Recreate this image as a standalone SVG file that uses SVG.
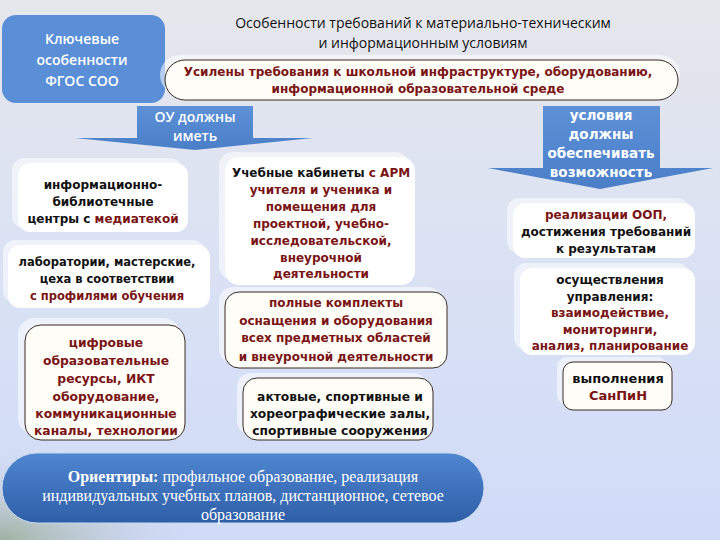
<svg xmlns="http://www.w3.org/2000/svg" width="720" height="540" viewBox="0 0 720 540">
<defs>
<linearGradient id="bg" x1="0" y1="0" x2="0" y2="1">
<stop offset="0" stop-color="#e6e7ec"/>
<stop offset="0.45" stop-color="#dbe2f3"/>
<stop offset="1" stop-color="#d0dbf8"/>
</linearGradient>
<radialGradient id="green" cx="0" cy="1" r="0.6">
<stop offset="0" stop-color="#8aa07a"/>
<stop offset="1" stop-color="#d2dcf8" stop-opacity="0"/>
</radialGradient>
<linearGradient id="pill" x1="0" y1="0" x2="0" y2="1">
<stop offset="0" stop-color="#4f86d0"/>
<stop offset="1" stop-color="#2f5ea8"/>
</linearGradient>
<linearGradient id="callout" x1="0" y1="0" x2="0" y2="1">
<stop offset="0" stop-color="#5c91d8"/>
<stop offset="1" stop-color="#4a7fc8"/>
</linearGradient>
</defs>
<style>
.t{font-family:"DejaVu Sans",Verdana,sans-serif;font-weight:bold;font-size:12px;text-anchor:middle;fill:#111}
.r{fill:#7a1414}
.w{fill:#ffffff}
.box{fill:#ffffff}
.sh{fill:#ffffff;opacity:0.55}
.bord{fill:#fffdf8;stroke:#3a2a22;stroke-width:1}
.title{font-family:"Open Sans","DejaVu Sans",sans-serif;font-size:14px;text-anchor:middle;fill:#111}
.hw{font-family:"Open Sans","DejaVu Sans",sans-serif;font-weight:600;font-size:14px;text-anchor:middle;fill:#ffffff}
.ser{font-family:"Liberation Serif","Times New Roman",serif;font-size:16px;text-anchor:middle;fill:#ffffff}
</style>
<rect width="720" height="540" fill="url(#bg)"/>
<rect x="0" y="380" width="360" height="160" fill="url(#green)" opacity="0.7"/>

<g id="key">
<rect x="2" y="15" width="163" height="88" rx="14" fill="#5a8fd8"/>
<text class="hw"><tspan x="82" y="44">Ключевые</tspan><tspan x="82" y="65">особенности</tspan><tspan x="82" y="86">ФГОС СОО</tspan></text>
</g>

<g id="title">
<text class="title"><tspan x="423" y="28">Особенности требований к материально-техническим</tspan><tspan x="423" y="48">и информационным условиям</tspan></text>
</g>

<g id="strength">
<rect x="160" y="55" width="520" height="40" rx="20" class="sh"/>
<rect x="165" y="60" width="513" height="40" rx="20" fill="#fffdf8" stroke="#3a2a22" stroke-width="1"/>
<text class="t r"><tspan x="418" y="76">Усилены требования к школьной инфраструктуре, оборудованию,</tspan><tspan x="418" y="93">информационной образовательной среде</tspan></text>
</g>

<g id="ou">
<path d="M137,106 H253 V138 H313 L195,150 L75,138 H137 Z" fill="url(#callout)"/>
<text class="hw"><tspan x="195" y="122">ОУ должны</tspan><tspan x="195" y="141">иметь</tspan></text>
</g>

<g id="cond">
<path d="M543,106 H660 V168 H713 L600,189 L488,168 H543 Z" fill="url(#callout)"/>
<text class="t w" style="font-size:13.5px"><tspan x="601" y="120">условия</tspan><tspan x="601" y="139">должны</tspan><tspan x="601" y="158">обеспечивать</tspan><tspan x="601" y="177">возможность</tspan></text>
</g>

<g id="lib">
<rect x="12" y="158" width="170" height="70" rx="12" class="sh"/>
<rect x="18" y="163" width="170" height="69" rx="12" class="box"/>
<text class="t"><tspan x="103" y="189">информационно-</tspan><tspan x="103" y="206">библиотечные</tspan><tspan x="103" y="223">центры с  <tspan class="r">медиатекой</tspan></tspan></text>
</g>

<g id="labs">
<rect x="3" y="240" width="202" height="63" rx="12" class="sh"/>
<rect x="8" y="245" width="202" height="63" rx="12" class="box"/>
<text class="t" style="font-size:11.5px"><tspan x="107" y="266">лаборатории, мастерские,</tspan><tspan x="107" y="283">цеха в соответствии</tspan><tspan x="107" y="300" class="r">с профилями обучения</tspan></text>
</g>

<g id="digital">
<rect x="18" y="318" width="162" height="116" rx="16" class="sh"/>
<rect x="25" y="325" width="160" height="115" rx="16" class="bord"/>
<text class="t r" style="font-size:12.3px"><tspan x="106" y="347">цифровые</tspan><tspan x="106" y="365">образовательные</tspan><tspan x="106" y="383">ресурсы, ИКТ</tspan><tspan x="106" y="401">оборудование,</tspan><tspan x="106" y="418">коммуникационные</tspan><tspan x="106" y="435">каналы, технологии</tspan></text>
</g>

<g id="cabinets">
<rect x="219" y="152" width="190" height="128" rx="14" class="sh"/>
<rect x="225" y="157" width="190" height="128" rx="14" class="box"/>
<text class="t r"><tspan x="321" y="177"><tspan fill="#111">Учебные кабинеты </tspan>с АРМ</tspan><tspan x="321" y="194">учителя и ученика и</tspan><tspan x="321" y="211">помещения для</tspan><tspan x="321" y="228">проектной, учебно-</tspan><tspan x="321" y="245">исследовательской,</tspan><tspan x="321" y="262">внеурочной</tspan><tspan x="321" y="278">деятельности</tspan></text>
</g>

<g id="sets">
<rect x="219" y="287" width="222" height="76" rx="14" class="sh"/>
<rect x="225" y="292" width="222" height="76" rx="14" class="bord"/>
<text class="t r"><tspan x="336" y="307">полные комплекты</tspan><tspan x="336" y="325">оснащения и оборудования</tspan><tspan x="336" y="342">всех предметных областей</tspan><tspan x="336" y="361">и внеурочной деятельности</tspan></text>
</g>

<g id="halls">
<rect x="237" y="373" width="190" height="62" rx="14" class="sh"/>
<rect x="243" y="378" width="190" height="62" rx="14" class="bord"/>
<text class="t" style="font-size:12.3px"><tspan x="340" y="401">актовые, спортивные и</tspan><tspan x="340" y="418">хореографические залы,</tspan><tspan x="340" y="435">спортивные сооружения</tspan></text>
</g>

<g id="oop">
<rect x="507" y="198" width="182" height="55" rx="12" class="sh"/>
<rect x="513" y="203" width="182" height="55" rx="12" class="box"/>
<text class="t"><tspan x="606" y="219" class="r">реализации ООП,</tspan><tspan x="606" y="236">достижения требований</tspan><tspan x="606" y="253">к результатам</tspan></text>
</g>

<g id="manage">
<rect x="514" y="263" width="175" height="87" rx="12" class="sh"/>
<rect x="520" y="268" width="175" height="87" rx="12" class="box"/>
<text class="t"><tspan x="610" y="284">осуществления</tspan><tspan x="610" y="301">управления:</tspan><tspan x="610" y="317" class="r">взаимодействие,</tspan><tspan x="610" y="334" class="r">мониторинги,</tspan><tspan x="610" y="350" class="r">анализ, планирование</tspan></text>
</g>

<g id="sanpin">
<rect x="557" y="357" width="110" height="48" rx="10" class="sh"/>
<rect x="563" y="362" width="109" height="48" rx="10" class="bord"/>
<text class="t" style="font-size:13px"><tspan x="618" y="383">выполнения</tspan><tspan x="618" y="400" class="r">СанПиН</tspan></text>
</g>

<g id="orient">
<rect x="2" y="453" width="482" height="70" rx="35" fill="url(#pill)" stroke="#c8d8f0" stroke-width="1"/>
<text class="ser"><tspan x="243" y="482"><tspan font-weight="bold">Ориентиры:</tspan> профильное образование, реализация</tspan><tspan x="243" y="501">индивидуальных учебных планов, дистанционное, сетевое</tspan><tspan x="243" y="520">образование</tspan></text>
</g>
</svg>
